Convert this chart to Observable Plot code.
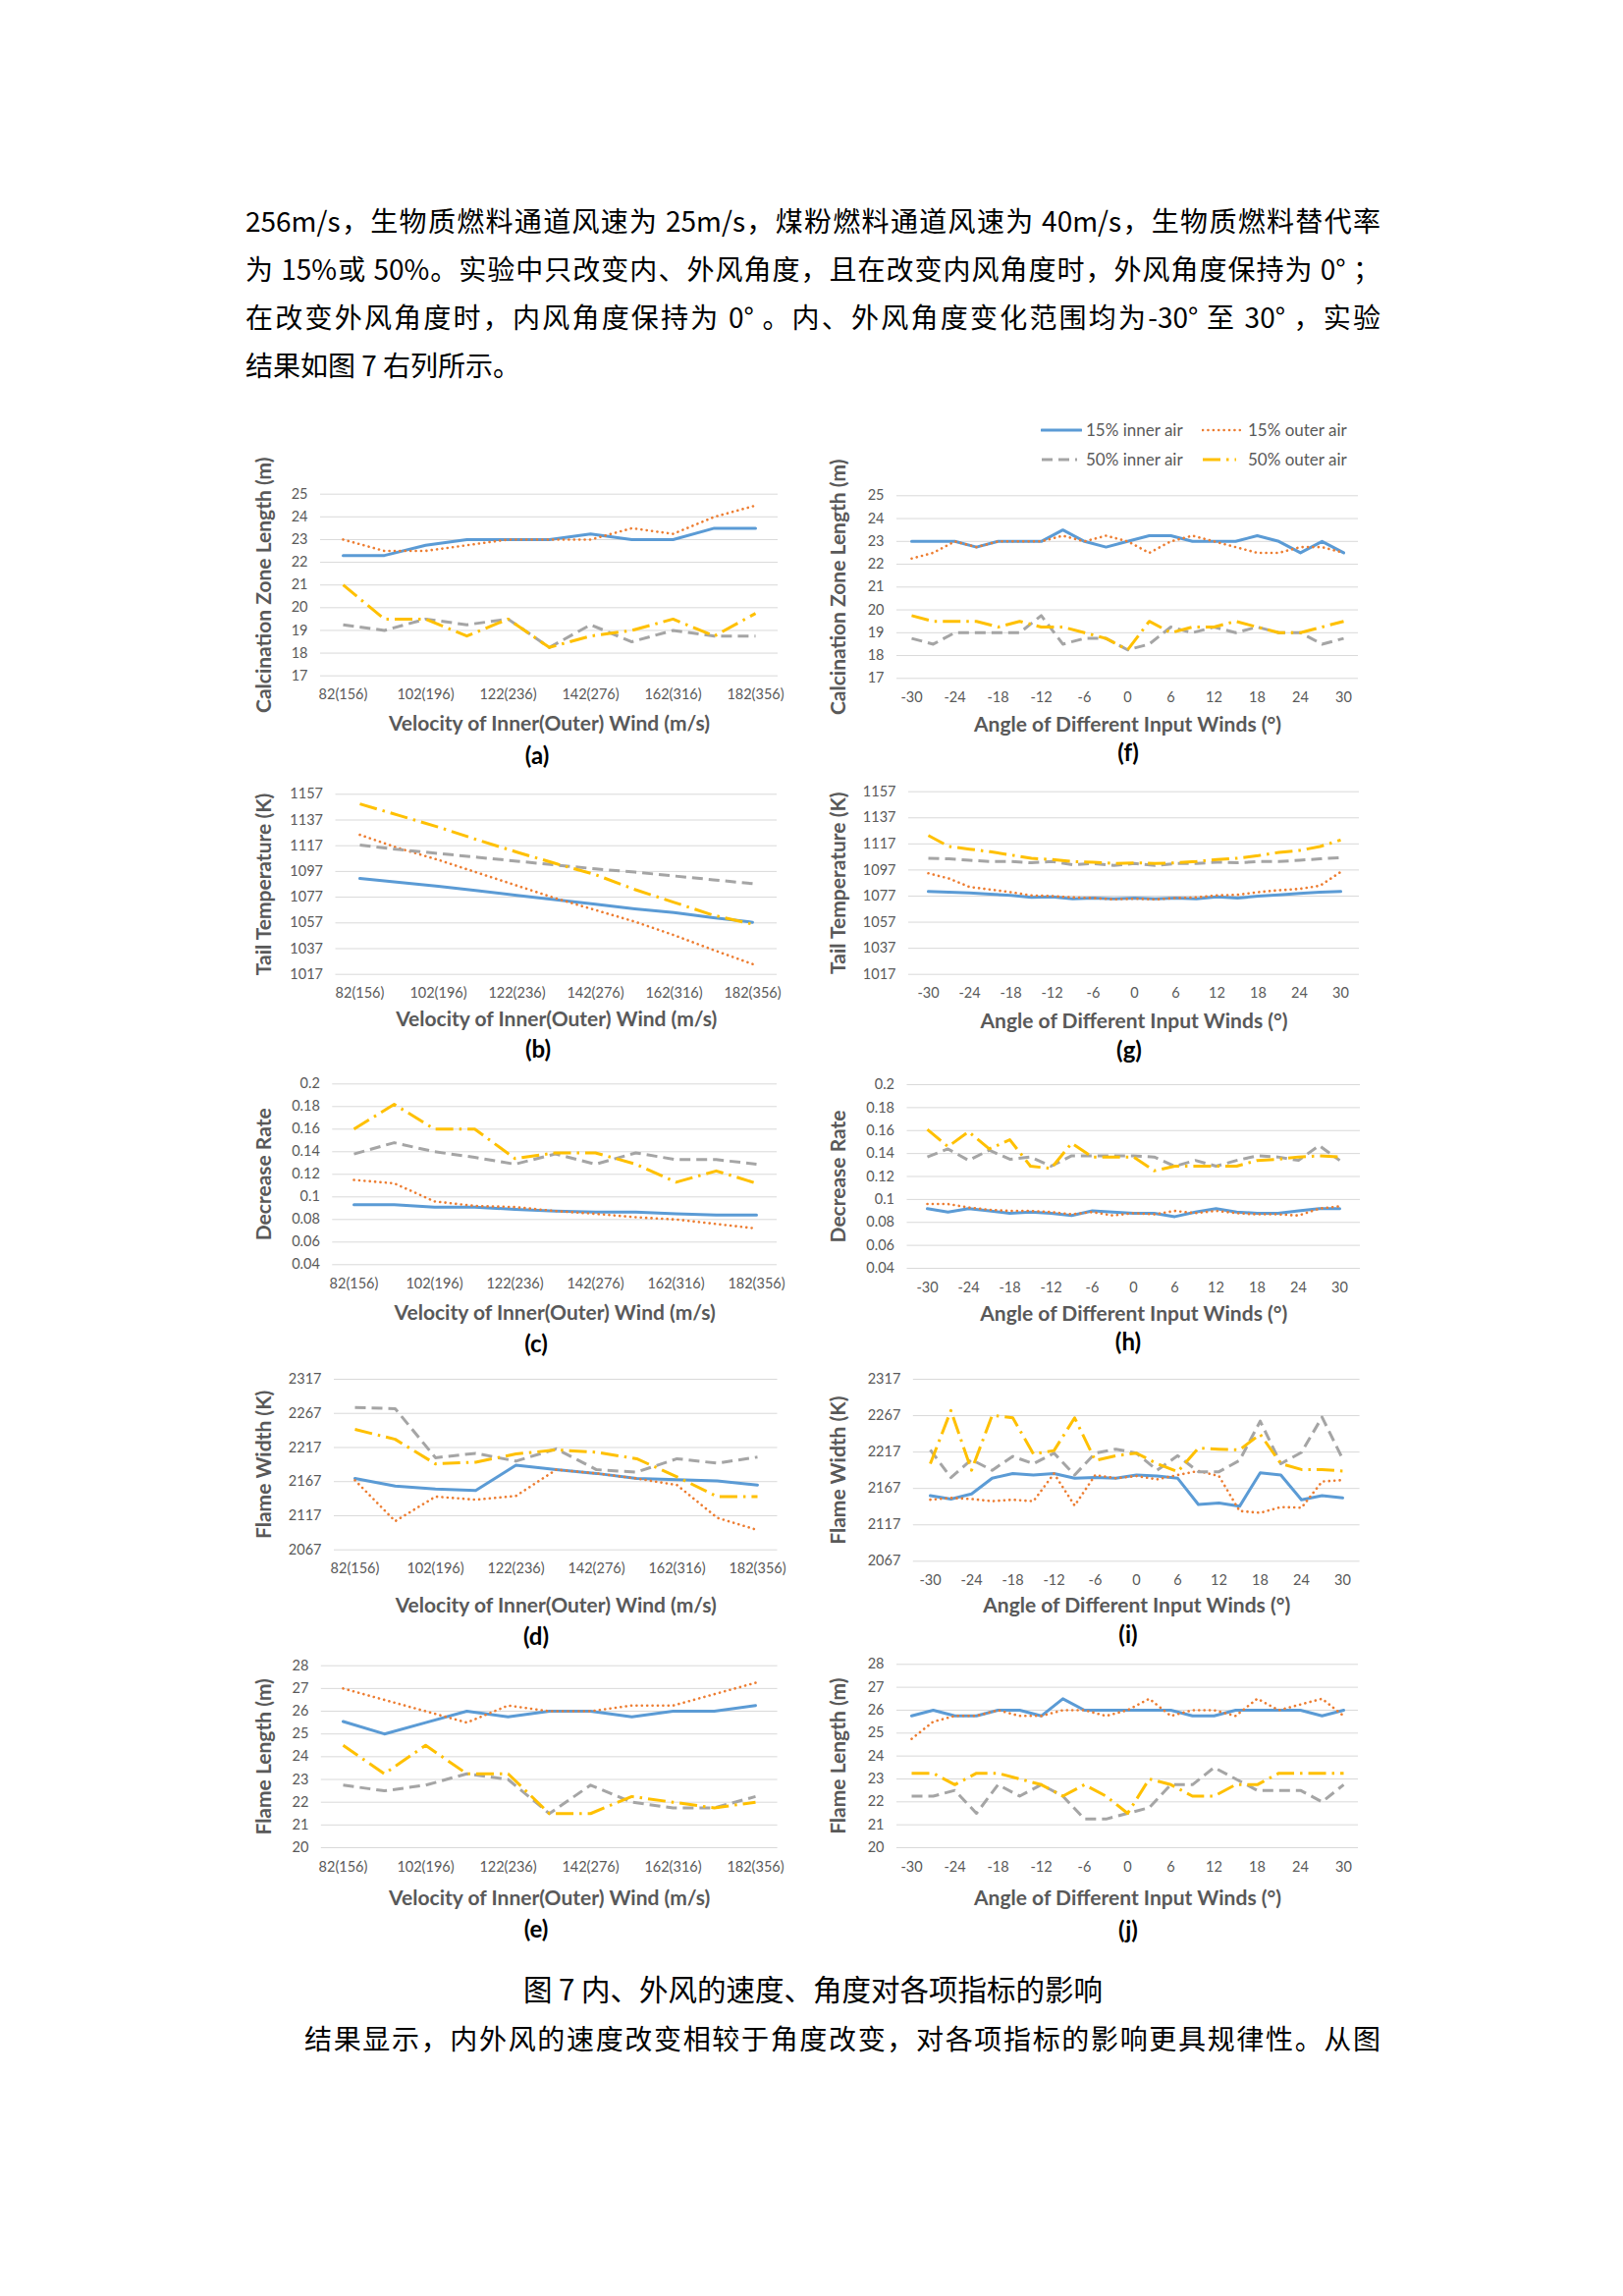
<!DOCTYPE html>
<html>
<head>
<meta charset="utf-8">
<script src="https://cdn.jsdelivr.net/npm/d3@7"></script>
<script src="https://cdn.jsdelivr.net/npm/@observablehq/plot@0.6"></script>
<style>
html,body{margin:0;padding:0;background:#fff;}
#page{position:relative;width:1653px;height:2338px;background:#fff;overflow:hidden;font-family:"Noto Sans CJK SC","Noto Sans",sans-serif;color:#000;}
.txt{position:absolute;font-size:28px;line-height:40px;height:40px;white-space:normal;}
.just{text-align:justify;text-align-last:justify;}
.cap{position:absolute;font-family:Lato,"Noto Sans",sans-serif;font-weight:bold;font-size:24px;color:#000;transform:translate(-50%,-50%);white-space:nowrap;}
.leg{position:absolute;font-family:Lato,"Noto Sans",sans-serif;font-size:17px;color:#595959;line-height:20px;white-space:nowrap;}
</style>
</head>
<body>
<div id="page"></div>
<script>
// ---------------- data ----------------
const velocityCats = ["82(156)","92(176)","102(196)","112(216)","122(236)","132(256)","142(276)","152(296)","162(316)","172(336)","182(356)"];
const velocityTicks = ["82(156)","102(196)","122(236)","142(276)","162(316)","182(356)"];
const angleCats = [-30,-27,-24,-21,-18,-15,-12,-9,-6,-3,0,3,6,9,12,15,18,21,24,27,30];
const angleTicks = [-30,-24,-18,-12,-6,0,6,12,18,24,30];

const seriesNames = ["15% inner air","15% outer air","50% inner air","50% outer air"];

const calcTicks = [17,18,19,20,21,22,23,24,25];
const tailTicks = [1017,1037,1057,1077,1097,1117,1137,1157];
const rateTicks = [0.04,0.06,0.08,0.1,0.12,0.14,0.16,0.18,0.2];
const widthTicks = [2067,2117,2167,2217,2267,2317];
const lengthTicks = [20,21,22,23,24,25,26,27,28];

const xLabelVelocity = "Velocity of Inner(Outer) Wind (m/s)";
const xLabelAngle = "Angle of Different Input Winds (°)";

// (a) calcination zone length vs velocity
const a15in  = [22.3,22.3,22.75,23.0,23.0,23.0,23.25,23.0,23.0,23.5,23.5];
const a15out = [23.0,22.5,22.5,22.75,23.0,23.0,23.0,23.5,23.25,24.0,24.5];
const a50in  = [19.25,19.0,19.5,19.25,19.5,18.25,19.25,18.5,19.0,18.75,18.75];
const a50out = [21.0,19.5,19.5,18.75,19.5,18.25,18.75,19.0,19.5,18.75,19.75];
// (b) tail temperature vs velocity
const b15in  = [1091.5,1088.5,1085.5,1082,1078.5,1075,1071.5,1068,1065,1061,1057.5];
const b15out = [1125.5,1115,1106,1096,1086,1076,1067,1058,1047.5,1036,1025];
const b50in  = [1117.5,1114,1111,1108,1105,1102,1099,1096.5,1093.5,1090.5,1087.5];
const b50out = [1149.5,1140.5,1131.5,1121.5,1112,1103,1094.5,1083,1073,1063,1056];
// (c) decrease rate vs velocity
const c15in  = [0.093,0.093,0.091,0.091,0.089,0.0875,0.0865,0.0865,0.085,0.084,0.084];
const c15out = [0.115,0.112,0.096,0.092,0.091,0.0875,0.085,0.082,0.080,0.076,0.072];
const c50in  = [0.138,0.148,0.140,0.135,0.129,0.138,0.129,0.139,0.133,0.133,0.129];
const c50out = [0.160,0.182,0.160,0.160,0.134,0.139,0.139,0.129,0.113,0.123,0.112];
// (d) flame width vs velocity
const d15in  = [2171.5,2160.5,2156,2154,2191,2184.5,2179,2171.5,2170,2168,2162];
const d15out = [2169,2109,2145,2140.5,2146,2184.5,2179,2171.5,2162,2114,2096];
const d50in  = [2275.5,2274,2202,2208.5,2197,2215,2184.5,2181,2200.5,2194,2203];
const d50out = [2243.5,2229,2193,2195.5,2207.5,2213.5,2210,2200.5,2174,2145,2145];
// (e) flame length vs velocity
const e15in  = [25.55,25.0,25.5,26.0,25.75,26.0,26.0,25.75,26.0,26.0,26.25];
const e15out = [27.0,26.5,26.0,25.5,26.25,26.0,26.0,26.25,26.25,26.75,27.25];
const e50in  = [22.75,22.5,22.75,23.25,23.0,21.5,22.75,22.0,21.75,21.75,22.25];
const e50out = [24.5,23.25,24.5,23.25,23.25,21.5,21.5,22.25,22.0,21.75,22.0];
// (f) calcination zone length vs angle
const f15in  = [23.0,23.0,23.0,22.75,23.0,23.0,23.0,23.5,23.0,22.75,23.0,23.25,23.25,23.0,23.0,23.0,23.25,23.0,22.5,23.0,22.5];
const f15out = [22.25,22.5,23.0,22.75,23.0,23.0,23.0,23.25,23.0,23.25,23.0,22.5,23.0,23.25,23.0,22.75,22.5,22.5,22.75,22.75,22.5];
const f50in  = [18.75,18.5,19.0,19.0,19.0,19.0,19.75,18.5,18.75,18.75,18.25,18.5,19.25,19.0,19.25,19.0,19.25,19.0,19.0,18.5,18.75];
const f50out = [19.75,19.5,19.5,19.5,19.25,19.5,19.25,19.25,19.0,18.75,18.25,19.5,19.0,19.25,19.25,19.5,19.25,19.0,19.0,19.25,19.5];
// (g) tail temperature vs angle
const g15in  = [1080.5,1080,1079.5,1078.5,1077.5,1076,1076.5,1075,1075.5,1075,1075.5,1075,1075.5,1075,1076.5,1075.5,1077,1078,1079,1080,1080.5];
const g15out = [1094.5,1090.5,1084,1082,1080,1077.5,1077,1076,1075.5,1074.5,1075,1074.5,1075.5,1076,1077.5,1078,1080,1081.5,1082.5,1085,1095.5];
const g50in  = [1106,1105.5,1104.5,1103.5,1103.5,1102.5,1103.5,1101,1102,1100.5,1102,1100.5,1102,1102,1103,1102.5,1103.5,1103.5,1104.5,1105.5,1106.5];
const g50out = [1123.5,1115,1113,1111,1108.5,1106,1105,1103.5,1103,1102,1102.5,1102,1102.5,1103.5,1105,1106,1108,1110.5,1112,1115,1120];
// (h) decrease rate vs angle
const h15in  = [0.092,0.089,0.092,0.090,0.088,0.089,0.088,0.086,0.090,0.089,0.088,0.088,0.085,0.089,0.092,0.089,0.088,0.088,0.090,0.092,0.092];
const h15out = [0.096,0.096,0.093,0.091,0.090,0.090,0.089,0.087,0.089,0.086,0.088,0.087,0.090,0.088,0.090,0.088,0.087,0.087,0.086,0.092,0.094];
const h50in  = [0.137,0.144,0.134,0.143,0.135,0.137,0.129,0.138,0.138,0.138,0.138,0.137,0.129,0.134,0.129,0.134,0.138,0.137,0.134,0.147,0.134];
const h50out = [0.161,0.146,0.159,0.144,0.152,0.129,0.127,0.149,0.137,0.137,0.137,0.125,0.129,0.129,0.129,0.129,0.134,0.135,0.137,0.138,0.137];
// (i) flame width vs angle
const i15in  = [2157,2152.5,2159.5,2181,2187.5,2185.5,2187.5,2181,2182,2181,2185.5,2184,2181,2145,2147,2142.5,2188.5,2185.5,2151.5,2157,2154];
const i15out = [2151.5,2154,2152.5,2149.5,2151.5,2149.5,2187.5,2143.5,2185.5,2181,2184,2179.5,2185.5,2191,2184,2136,2133.5,2141.5,2140.5,2176.5,2178.5];
const i50in  = [2220,2182,2206.5,2192,2211,2201,2215.5,2185.5,2215.5,2221,2215.5,2192,2212,2190,2190,2205.5,2259.5,2201,2216.5,2265,2207.5];
const i50out = [2201,2274,2192,2267.5,2264,2214.5,2219,2264,2205.5,2212,2215.5,2201,2190,2222.5,2221,2220,2241.5,2201,2193,2193,2191];
// (j) flame length vs angle
const j15in  = [25.75,26.0,25.75,25.75,26.0,26.0,25.75,26.5,26.0,26.0,26.0,26.0,26.0,25.75,25.75,26.0,26.0,26.0,26.0,25.75,26.0];
const j15out = [24.75,25.5,25.75,25.75,26.0,25.75,25.75,26.0,26.0,25.75,26.0,26.5,25.75,26.0,26.0,25.75,26.5,26.0,26.25,26.5,25.75];
const j50in  = [22.25,22.25,22.5,21.5,22.75,22.25,22.75,22.25,21.25,21.25,21.5,21.75,22.75,22.75,23.5,23.0,22.5,22.5,22.5,22.0,22.75];
const j50out = [23.25,23.25,22.75,23.25,23.25,23.0,22.75,22.25,22.75,22.25,21.5,23.0,22.75,22.25,22.25,22.75,22.75,23.25,23.25,23.25,23.25];

// ---------------- styles / layout ----------------
const SERIES_STYLE = [
  {stroke:"#5B9BD5", strokeWidth:3, strokeDasharray:undefined, strokeLinecap:"round"},
  {stroke:"#ED7D31", strokeWidth:2.6, strokeDasharray:"0.1 5.3", strokeLinecap:"round"},
  {stroke:"#A5A5A5", strokeWidth:3, strokeDasharray:"11 6", strokeLinecap:"butt"},
  {stroke:"#FFC000", strokeWidth:3, strokeDasharray:"18 6 2.5 6", strokeLinecap:"butt"}
];
const TITLE_FS = 21, TICK_FS = 14.5;
const Y_TITLE_CX = [268.7, 853.7];
const COL_SVG = [{left:240, width:580}, {left:826, width:574}];

const panels = [
  {tag:"(a)", col:0, cats:velocityCats, xt:velocityTicks, xLabel:xLabelVelocity, yLabel:"Calcination Zone Length (m)", yTicks:calcTicks, series:[a15in,a15out,a50in,a50out], frame:[326,792,502.7,687.7], xTitleY:737, cap:[547,768]},
  {tag:"(f)", col:1, cats:angleCats, xt:angleTicks, xLabel:xLabelAngle, yLabel:"Calcination Zone Length (m)", yTicks:calcTicks, series:[f15in,f15out,f50in,f50out], frame:[913,1383,504.3,690.3], xTitleY:738, cap:[1149,765]},
  {tag:"(b)", col:0, cats:velocityCats, xt:velocityTicks, xLabel:xLabelVelocity, yLabel:"Tail Temperature (K)", yTicks:tailTicks, series:[b15in,b15out,b50in,b50out], frame:[341.5,791,808.3,991.7], xTitleY:1038, cap:[548,1067]},
  {tag:"(g)", col:1, cats:angleCats, xt:angleTicks, xLabel:xLabelAngle, yLabel:"Tail Temperature (K)", yTicks:tailTicks, series:[g15in,g15out,g50in,g50out], frame:[925,1384,805.7,991.7], xTitleY:1040, cap:[1150,1068]},
  {tag:"(c)", col:0, cats:velocityCats, xt:velocityTicks, xLabel:xLabelVelocity, yLabel:"Decrease Rate", yTicks:rateTicks, series:[c15in,c15out,c50in,c50out], frame:[338.3,791,1103.3,1287.3], xTitleY:1337, cap:[546,1367]},
  {tag:"(h)", col:1, cats:angleCats, xt:angleTicks, xLabel:xLabelAngle, yLabel:"Decrease Rate", yTicks:rateTicks, series:[h15in,h15out,h50in,h50out], frame:[923.5,1385,1104,1291], xTitleY:1338, cap:[1149,1365]},
  {tag:"(d)", col:0, cats:velocityCats, xt:velocityTicks, xLabel:xLabelVelocity, yLabel:"Flame Width (K)", yTicks:widthTicks, series:[d15in,d15out,d50in,d50out], frame:[340,791.5,1404,1577.7], xTitleY:1635, cap:[546,1665]},
  {tag:"(i)", col:1, cats:angleCats, xt:angleTicks, xLabel:xLabelAngle, yLabel:"Flame Width (K)", yTicks:widthTicks, series:[i15in,i15out,i50in,i50out], frame:[929.8,1384.6,1404,1589.3], xTitleY:1635, cap:[1149,1663]},
  {tag:"(e)", col:0, cats:velocityCats, xt:velocityTicks, xLabel:xLabelVelocity, yLabel:"Flame Length (m)", yTicks:lengthTicks, series:[e15in,e15out,e50in,e50out], frame:[326.8,791.6,1695.7,1881], xTitleY:1933, cap:[546,1963]},
  {tag:"(j)", col:1, cats:angleCats, xt:angleTicks, xLabel:xLabelAngle, yLabel:"Flame Length (m)", yTicks:lengthTicks, series:[j15in,j15out,j50in,j50out], frame:[913,1383,1694.3,1881], xTitleY:1933, cap:[1149,1964]}
];

const page = document.getElementById("page");

function addDiv(cls, text, style) {
  const d = document.createElement("div");
  d.className = cls;
  d.textContent = text;
  Object.assign(d.style, style);
  page.appendChild(d);
  return d;
}

// ---------------- body text ----------------
const textLines = [
  {t:"256m/s，生物质燃料通道风速为 25m/s，煤粉燃料通道风速为 40m/s，生物质燃料替代率", cy:224, just:true},
  {t:"为 15%或 50%。实验中只改变内、外风角度，且在改变内风角度时，外风角度保持为 0° ；", cy:273, just:true},
  {t:"在改变外风角度时，内风角度保持为 0° 。内、外风角度变化范围均为-30° 至 30° ，实验", cy:322, just:true},
  {t:"结果如图 7 右列所示。", cy:371, just:false}
];
textLines.forEach(l => addDiv("txt" + (l.just ? " just" : ""), l.t, {left:"250px", width:"1156px", top:(l.cy - 20) + "px"}));

addDiv("txt", "图 7  内、外风的速度、角度对各项指标的影响", {left:"0px", width:"1656px", textAlign:"center", top:(2024 - 20) + "px", fontSize:"29.5px"});
addDiv("txt just", "结果显示，内外风的速度改变相较于角度改变，对各项指标的影响更具规律性。从图", {left:"310px", width:"1096px", top:(2075 - 20) + "px"});

// ---------------- charts ----------------
panels.forEach(p => {
  const [L, R, T, B] = p.frame;
  const svgL = COL_SVG[p.col].left, svgW = COL_SVG[p.col].width;
  const svgT = Math.round(T - 62), svgB = Math.round(B + 72);
  const rows = [];
  p.series.forEach((vals, s) => vals.forEach((v, j) => rows.push({s, name: seriesNames[s], x: p.cats[j], v})));
  const marks = [
    Plot.gridY(p.yTicks, {stroke:"#d9d9d9", strokeOpacity:1, strokeWidth:1}),
    Plot.axisY(p.yTicks, {tickSize:0, tickPadding:13, fontSize:TICK_FS, fill:"#595959", label:null, tickFormat:d => String(d)}),
    Plot.axisX(p.xt, {tickSize:0, tickPadding:14, fontSize:TICK_FS, fill:"#595959", label:null, tickFormat:d => String(d)}),
    // axis titles
    Plot.text([p.xLabel], {text:d => d, frameAnchor:"bottom", textAnchor:"middle", lineAnchor:"middle", dy:p.xTitleY - B, fontSize:TITLE_FS, fontWeight:"bold", fill:"#595959"}),
    Plot.text([p.yLabel], {text:d => d, frameAnchor:"left", textAnchor:"middle", lineAnchor:"middle", rotate:-90, dx:Y_TITLE_CX[p.col] - L, fontSize:TITLE_FS, fontWeight:"bold", fill:"#595959"}),
    ...SERIES_STYLE.map((st, s) => Plot.line(rows.filter(r => r.s === s), {
      x:"x", y:"v", stroke:st.stroke, strokeWidth:st.strokeWidth, strokeDasharray:st.strokeDasharray,
      strokeLinecap:st.strokeLinecap, strokeLinejoin:"round"
    }))
  ];
  const chart = Plot.plot({
    width: svgW,
    height: svgB - svgT,
    marginLeft: L - svgL,
    marginRight: svgL + svgW - R,
    marginTop: T - svgT,
    marginBottom: svgB - B,
    x: {type:"point", domain:p.cats, padding:0.5, align:0.5},
    y: {domain:[p.yTicks[0], p.yTicks[p.yTicks.length - 1]]},
    style: {position:"absolute", left:svgL + "px", top:svgT + "px", background:"transparent", overflow:"visible", fontFamily:"Lato, 'Noto Sans', sans-serif", color:"#595959", maxWidth:"none"},
    marks
  });
  page.appendChild(chart);
  addDiv("cap", p.tag, {left:p.cap[0] + "px", top:p.cap[1] + "px"});
});

// ---------------- legend ----------------
const legendItems = [
  {s:0, x:1060, w:42, tx:1106, cy:438},
  {s:1, x:1224, w:40, tx:1271, cy:438},
  {s:2, x:1060, w:38, tx:1106, cy:468},
  {s:3, x:1224, w:36, tx:1271, cy:468}
];
legendItems.forEach(it => {
  const st = SERIES_STYLE[it.s];
  const ns = "http://www.w3.org/2000/svg";
  const svg = document.createElementNS(ns, "svg");
  svg.setAttribute("width", it.w);
  svg.setAttribute("height", 10);
  svg.style.position = "absolute";
  svg.style.left = it.x + "px";
  svg.style.top = (it.cy - 5) + "px";
  const ln = document.createElementNS(ns, "line");
  ln.setAttribute("x1", 1); ln.setAttribute("x2", it.w - 1);
  ln.setAttribute("y1", 5); ln.setAttribute("y2", 5);
  ln.setAttribute("stroke", st.stroke);
  ln.setAttribute("stroke-width", st.strokeWidth);
  if (st.strokeDasharray) ln.setAttribute("stroke-dasharray", st.strokeDasharray);
  ln.setAttribute("stroke-linecap", st.strokeLinecap);
  svg.appendChild(ln);
  page.appendChild(svg);
  addDiv("leg", seriesNames[it.s], {left:it.tx + "px", top:(it.cy - 10) + "px"});
});
</script>
</body>
</html>
